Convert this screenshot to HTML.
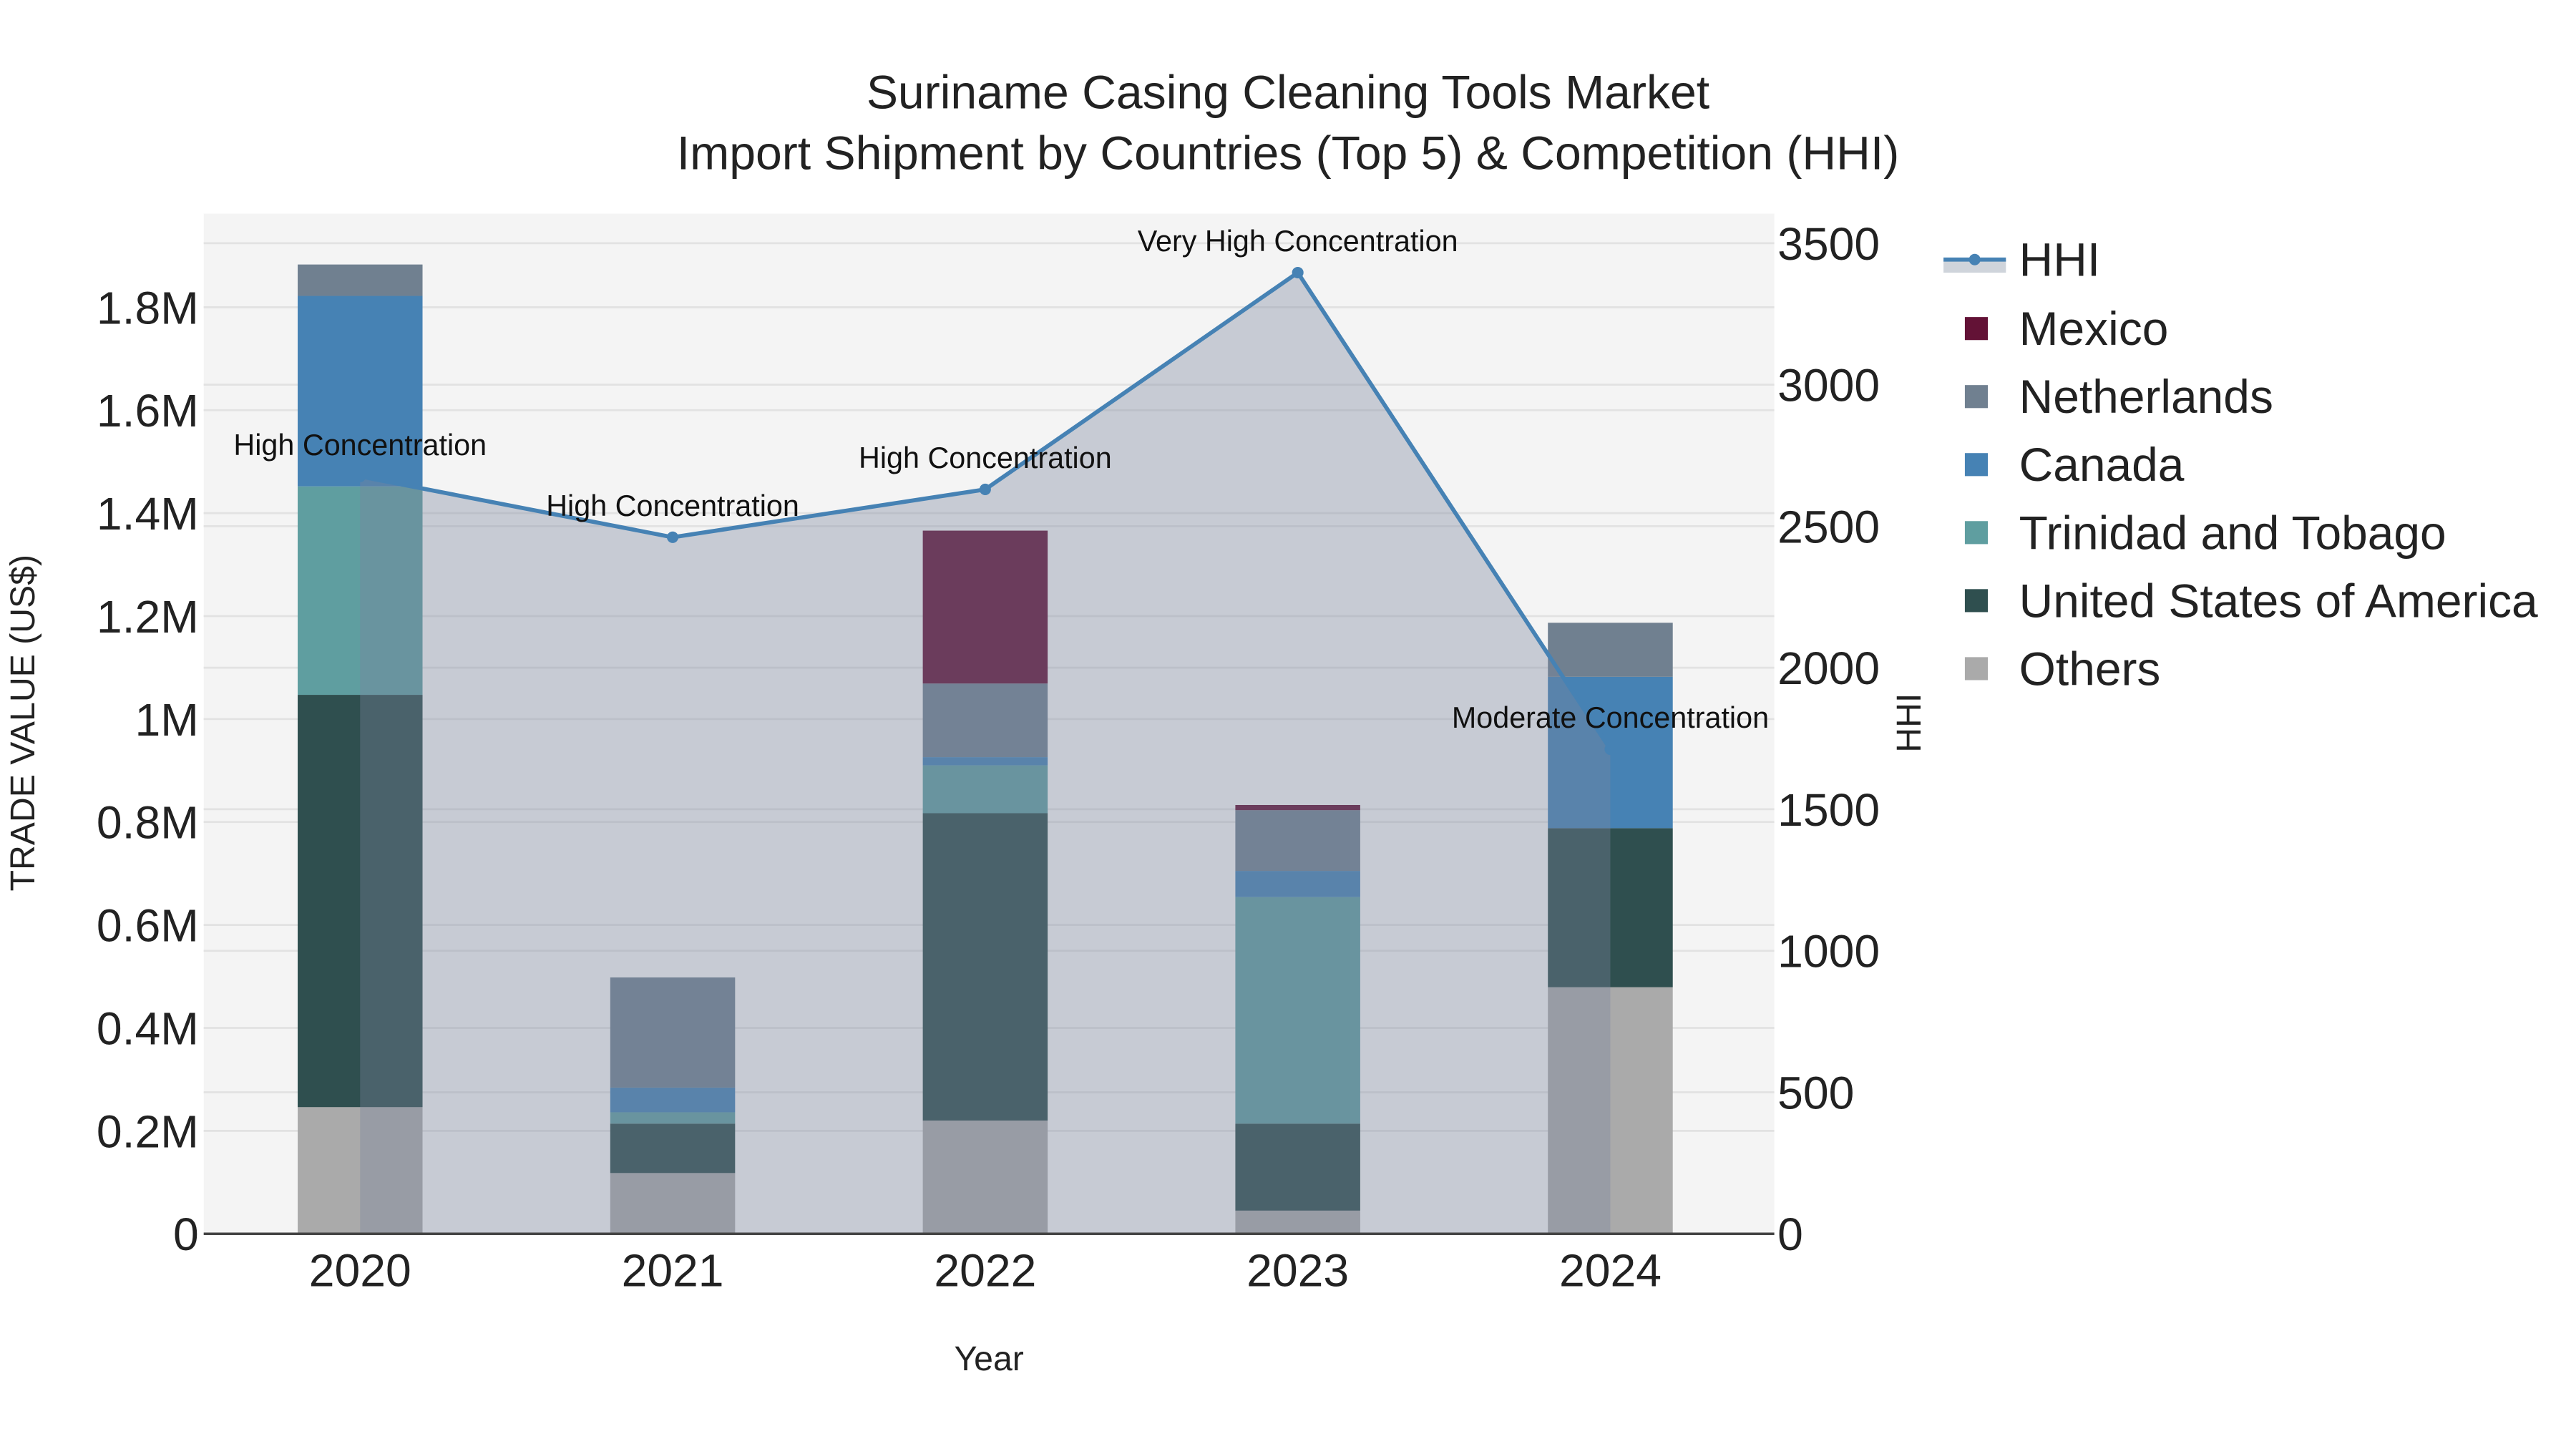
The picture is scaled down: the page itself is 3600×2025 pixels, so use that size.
<!DOCTYPE html>
<html><head><meta charset="utf-8"><style>html,body{margin:0;padding:0;background:#fff}svg{display:block}text{font-family:"Liberation Sans",sans-serif}</style></head>
<body>
<svg id="chart" width="3600" height="2025" viewBox="0 0 1568 882" preserveAspectRatio="none" xmlns="http://www.w3.org/2000/svg">
<rect x="124" y="130" width="956" height="621" fill="#f4f4f4"/>
<g id="grid"></g><g id="bars"></g><g id="area"></g><g id="axes"></g><g id="legend"></g>
<text x="784" y="66" font-size="28.8" text-anchor="middle" fill="#222">Suriname Casing Cleaning Tools Market</text>
<text x="784" y="103" font-size="28.8" text-anchor="middle" fill="#222">Import Shipment by Countries (Top 5) &amp; Competition (HHI)</text>
<text x="602" y="834" font-size="21" text-anchor="middle" fill="#222">Year</text>
<text transform="translate(21,440) rotate(-90)" font-size="21" text-anchor="middle" fill="#222">TRADE VALUE (US$)</text>
<text transform="translate(1169,440) rotate(-90)" font-size="21" text-anchor="middle" fill="#222">HHI</text>
</svg>
<script>
const years = ["2020","2021","2022","2023","2024"];
const others = [0.246, 0.118, 0.220, 0.045, 0.479];
const usa = [0.801, 0.096, 0.597, 0.169, 0.309];
const trinidad = [0.405, 0.022, 0.093, 0.440, 0];
const canada = [0.370, 0.048, 0.016, 0.051, 0.294];
const netherlands = [0.061, 0.214, 0.143, 0.118, 0.105];
const mexico = [0, 0, 0.297, 0.010, 0];
const hhi = [2676, 2461, 2630, 3396, 1712];
const hhiLabels = ["High Concentration","High Concentration","High Concentration","Very High Concentration","Moderate Concentration"];
const yTicks = [0,0.2,0.4,0.6,0.8,1,1.2,1.4,1.6,1.8];
const yTickLabels = ["0","0.2M","0.4M","0.6M","0.8M","1M","1.2M","1.4M","1.6M","1.8M"];
const y2Ticks = [0,500,1000,1500,2000,2500,3000,3500];

const NS="http://www.w3.org/2000/svg";
const X0=124,X1=1080,Y0=751,Y1=130;
const band=190.25;
const xC=i=>219.2+band*i;
const yS=v=>Y0-v*313.33;
const y2S=v=>Y0-v*(86.14/500);
function mk(tag,attrs,parent){const e=document.createElementNS(NS,tag);for(const k in attrs)e.setAttribute(k,attrs[k]);parent.appendChild(e);return e;}
const grid=document.getElementById('grid'),bars=document.getElementById('bars'),area=document.getElementById('area'),axes=document.getElementById('axes'),legend=document.getElementById('legend');

yTicks.forEach((t,i)=>{
  const l=mk('line',{x1:X0,x2:X1,y1:yS(t),y2:yS(t),stroke:'#e2e2e2','stroke-width':1.2},grid);
  
  
  const tx=mk('text',{x:121,y:yS(t)+10,'font-size':28,'text-anchor':'end',fill:'#222'},axes);
  tx.textContent=yTickLabels[i];
  
  
});
y2Ticks.forEach(t=>{
  const l=mk('line',{x1:X0,x2:X1,y1:y2S(t),y2:y2S(t),stroke:'#e2e2e2','stroke-width':1.2},grid);
  
  
  const tx=mk('text',{x:1082,y:y2S(t)+10,'font-size':28,fill:'#222'},axes);
  tx.textContent=String(t);
  
  
});

const series=[["Others",others,"#aaaaaa"],["United States of America",usa,"#2f4f4f"],["Trinidad and Tobago",trinidad,"#5f9ea0"],["Canada",canada,"#4682b4"],["Netherlands",netherlands,"#708090"],["Mexico",mexico,"#631236"]];
const bw=76;
years.forEach((yr,i)=>{
  let base=0;
  series.forEach(s=>{
    const v=s[1][i];
    if(v>0){
      const r=mk('rect',{x:xC(i)-bw/2,y:yS(base+v),width:bw,height:yS(base)-yS(base+v),fill:s[2]},bars);
      
      
    }
    base+=v;
  });
  const tx=mk('text',{x:xC(i),y:783,'font-size':28,'text-anchor':'middle',fill:'#222'},axes);
  tx.textContent=yr;
  
  
});

let pts=hhi.map((v,i)=>xC(i)+','+y2S(v)).join(' ');
const ap=mk('polygon',{points:xC(0)+','+Y0+' '+pts+' '+xC(hhi.length-1)+','+Y0,fill:'rgba(123,134,156,0.37)'},area);


const pl=mk('polyline',{points:pts,fill:'none',stroke:'#4682b4','stroke-width':2.5},area);


hhi.forEach((v,i)=>{
  const c=mk('circle',{cx:xC(i),cy:y2S(v),r:3.5,fill:'#4682b4'},area);
  
  
  const t=mk('text',{x:xC(i),y:y2S(v)-13,'font-size':18,'text-anchor':'middle',fill:'#111'},area);
  t.textContent=hhiLabels[i];
  
  
});
const ax=mk('line',{x1:X0,x2:X1,y1:Y0,y2:Y0,stroke:'#444','stroke-width':1.5},axes);



// legend
const lg=mk('g',{},legend);


mk('rect',{x:1183,y:158,width:38,height:8,fill:'#cfd4db'},lg);
mk('line',{x1:1183,x2:1221,y1:158,y2:158,stroke:'#4682b4','stroke-width':2.5},lg);
mk('circle',{cx:1202,cy:158,r:3.5,fill:'#4682b4'},lg);
const ht=mk('text',{x:1229,y:168,'font-size':28.7,fill:'#222'},lg);ht.textContent='HHI';
const legItems=series.slice().reverse();
legItems.forEach((s,i)=>{
  const g=mk('g',{},legend);
  
  
  const cy=200+i*41.4;
  mk('rect',{x:1196,y:cy-7,width:14,height:14,fill:s[2]},g);
  const t=mk('text',{x:1229,y:cy+10,'font-size':28.7,fill:'#222'},g);t.textContent=s[0];
});
</script>
</body></html>
